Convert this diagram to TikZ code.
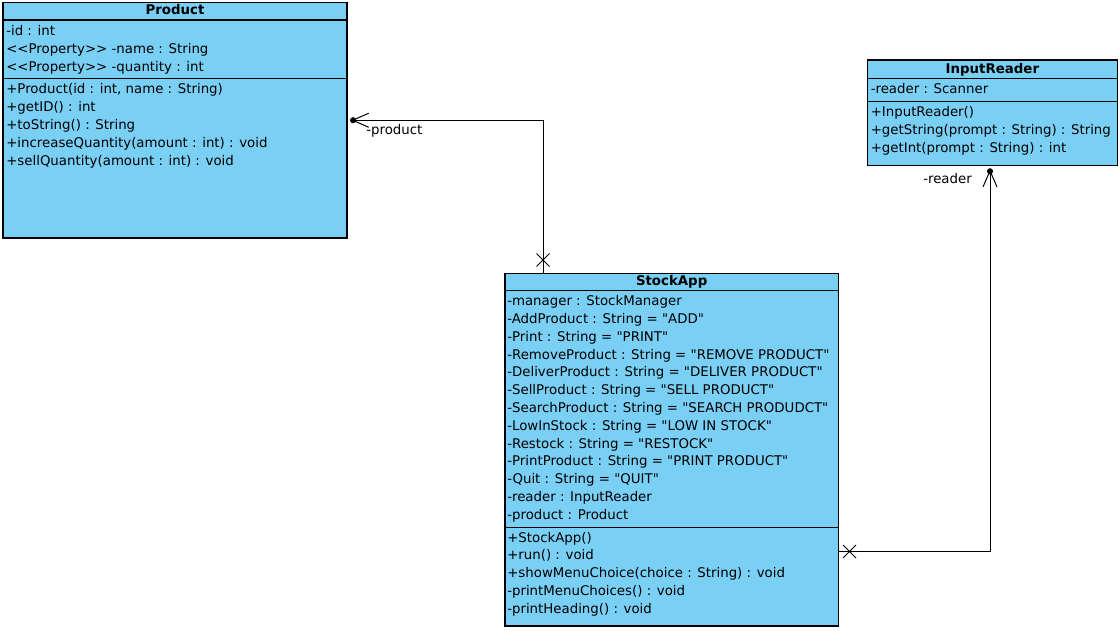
\documentclass[tikz,border=0pt]{standalone}
\usepackage{fontspec}
\setmainfont{DejaVu Sans}[Ligatures=TeXOff]
\usetikzlibrary{arrows.meta,shapes.misc}
\definecolor{classblue}{RGB}{122,207,245}
\tikzset{
  classbox/.style={draw=black,fill=classblue,line width=0.8pt,inner sep=0pt},
  member/.style={anchor=west,inner sep=0pt,text height=7.2pt,text depth=2.2pt,font=\fontsize{10}{12}\selectfont},
  classname/.style={inner sep=0pt,text height=7.2pt,text depth=2.2pt,font=\fontsize{10}{12}\selectfont\bfseries},
  assoc/.style={line width=0.75pt,-{Straight Barb[length=12pt,width=10.5pt,sep=-3.5pt] Circle[length=4.5pt,sep=-3.5pt]}},
  xmark/.style={cross out,draw,line width=0.75pt,minimum size=9pt,inner sep=0pt}
}
\begin{document}
\begin{tikzpicture}[x=0.75pt,y=-0.75pt]
\useasboundingbox (0,0) rectangle (1120,631);
% Product
\node[classbox,outer sep=5.8pt,minimum width=258pt,minimum height=176.6pt] (product) at (175,120.25) {};
\draw[line width=0.8pt] (3,20) -- (347,20);
\draw[line width=0.8pt] (3,78.7) -- (347,78.7);
\node[classname] (productname) at (175,11.5) {Product};
\foreach \txt [count=\i] in {{-id : int},{<<Property>> -name : String},{<<Property>> -quantity : int}}
{
\node[member] (pa\i) at (6,{32.3+17.8*(\i-1)}) {\txt};
}
\foreach \txt [count=\i] in {{+Product(id : int, name : String)},{+getID() : int},{+toString() : String},
   {+increaseQuantity(amount : int) : void},{+sellQuantity(amount : int) : void}}
{
\node[member] (pm\i) at (6,{90.2+17.9*(\i-1)}) {\txt};
}
% StockApp
\node[classbox,minimum width=250pt,minimum height=264.5pt] (stockapp) at (671.65,449.65) {};
\draw[line width=0.8pt] (505,290.7) -- (838.3,290.7);
\draw[line width=0.8pt] (505,527.3) -- (838.3,527.3);
\node[classname] (stockappname) at (671.65,282.2) {StockApp};
\foreach \txt [count=\i] in {{-manager : StockManager},{-AddProduct : String = "ADD"},{-Print : String = "PRINT"},
   {-RemoveProduct : String = "REMOVE PRODUCT"},{-DeliverProduct : String = "DELIVER PRODUCT"},
   {-SellProduct : String = "SELL PRODUCT"},{-SearchProduct : String = "SEARCH PRODUDCT"},
   {-LowInStock : String = "LOW IN STOCK"},{-Restock : String = "RESTOCK"},
   {-PrintProduct : String = "PRINT PRODUCT"},{-Quit : String = "QUIT"},
   {-reader : InputReader},{-product : Product}}
{
\node[member] (sa\i) at (507,{302.3+17.8*(\i-1)}) {\txt};
}
\foreach \txt [count=\i] in {{+StockApp()},{+run() : void},{+showMenuChoice(choice : String) : void},
   {-printMenuChoices() : void},{-printHeading() : void}}
{
\node[member] (sm\i) at (507,{538.7+17.8*(\i-1)}) {\txt};
}
% InputReader
\node[classbox,outer sep=5.6pt,minimum width=187.6pt,minimum height=79.1pt] (inputreader) at (992.4,112.75) {};
\draw[line width=0.8pt] (867.3,78.7) -- (1117.5,78.7);
\draw[line width=0.8pt] (867.3,101.7) -- (1117.5,101.7);
\node[classname] (inputreadername) at (992.4,69.8) {InputReader};
\node[member] (ia1) at (870.5,90.5) {-reader : Scanner};
\foreach \txt [count=\i] in {{+InputReader()},{+getString(prompt : String) : String},{+getInt(prompt : String) : int}}
{
\node[member] (im\i) at (870.5,{112.7+18.1*(\i-1)}) {\txt};
}
% associations
\coordinate (pcorner) at (543,120.25);
\draw[assoc] (stockapp.north -| pcorner) -- (pcorner) -- (product.east);
\node[xmark] (px) at (543,260) {};
\node[member] (plabel) at (366,131) {-product};
\coordinate (rcorner) at (990,551);
\draw[assoc] (stockapp.east |- rcorner) -- (rcorner) -- (inputreader.south -| rcorner);
\node[xmark] (rx) at (849.5,551.5) {};
\node[member] (rlabel) at (923,180) {-reader};
\end{tikzpicture}
\end{document}
